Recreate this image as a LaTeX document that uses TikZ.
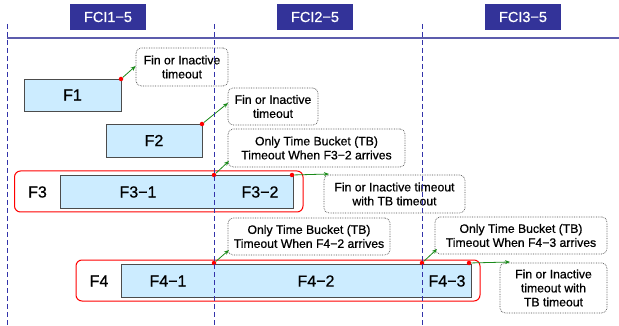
\documentclass[tikz,border=0pt]{standalone}
\usepackage{fontspec}
\setmainfont{Liberation Sans}[FakeBold=0.7]
\usetikzlibrary{arrows.meta}
\definecolor{hdr}{HTML}{333399}
\definecolor{vline}{HTML}{3333AA}
\definecolor{boxfill}{HTML}{CCECFF}
\definecolor{grn}{HTML}{1A8A1A}
\tikzset{
  hdrbox/.style={fill=hdr, text=white, minimum width=76pt, minimum height=26pt, inner sep=0pt, font=\fontsize{14.5}{16}\selectfont},
  flowbox/.style={draw=black!70, line width=0.8pt, fill=boxfill},
  grp/.style={draw=red, line width=1pt, rounded corners=6pt},
  callout/.style={draw=black!70, densely dotted, line width=0.7pt, rounded corners=5pt, fill=white, align=center, inner sep=0pt, font=\fontsize{12.2}{14}\selectfont},
  lbl/.style={font=\fontsize{16}{18}\selectfont, inner sep=0pt},
  reddot/.style={circle, fill=red, inner sep=0pt, minimum size=4.5pt},
  garrow/.style={draw=grn, line width=0.8pt, -{Stealth[length=5pt,width=4pt]}},
  vdash/.style={draw=vline, line width=0.9pt, dash pattern=on 5pt off 3pt},
}
\begin{document}
\begin{tikzpicture}[x=1pt,y=-1pt]
\useasboundingbox (0,0) rectangle (619,326);
% headers
\node[hdrbox] (h1) at (108,17) {FCI1−5};
\node[hdrbox] (h2) at (315,17) {FCI2−5};
\node[hdrbox] (h3) at (523,17) {FCI3−5};
\coordinate (hl0) at (7,38);
\coordinate (hl1) at (619,38);
\draw[draw=hdr!80, line width=1.2pt] (hl0) -- (hl1);

% F1
\draw[flowbox] (24,79) rectangle (121,111);
\node[lbl] (f1) at (72.5,95) {F1};
\node[callout, minimum width=92pt, minimum height=38pt] (c1) at (182,67) {Fin or Inactive\\timeout};
\node[reddot] (d1) at (121,79) {};
\draw[garrow] (d1) -- (c1.west |- 0,66) coordinate (e1);

% F2
\draw[flowbox] (106,124) rectangle (202,157);
\node[lbl] (f2) at (154,140.5) {F2};
\node[callout, minimum width=90pt, minimum height=37pt] (c2) at (273,106.5) {Fin or Inactive\\timeout};
\node[reddot] (d2) at (202,124) {};
\coordinate (e2) at (228,103);
\draw[garrow] (d2) -- (e2);

% F3
\node[callout, minimum width=177pt, minimum height=38pt] (c3) at (316.5,148) {Only Time Bucket (TB)\\Timeout When F3−2 arrives};
\draw[grp] (14.5,171) rectangle (303,212);
\draw[flowbox] (60,175) rectangle (293,208);
\node[lbl] (f3) at (37.5,192) {F3};
\node[lbl] (f31) at (138,192) {F3−1};
\node[lbl] (f32) at (260,192) {F3−2};
\node[callout, minimum width=141pt, minimum height=38pt] (c4) at (394.5,194) {Fin or Inactive timeout\\with TB timeout};
\node[reddot] (d31) at (214,175) {};
\node[reddot] (d32) at (292,175) {};
\coordinate (e31) at (229,161);
\coordinate (e32) at (329,174);
\draw[garrow] (d31) -- (e31);
\draw[garrow] (d32) -- (e32);

% F4
\node[callout, minimum width=162pt, minimum height=37pt] (c5) at (309,236.5) {Only Time Bucket (TB)\\Timeout When F4−2 arrives};
\node[callout, minimum width=172pt, minimum height=37pt] (c6) at (521,235.5) {Only Time Bucket (TB)\\Timeout When F4−3 arrives};
\node[callout, minimum width=107pt, minimum height=50pt] (c7) at (553.5,288) {Fin or Inactive\\timeout with\\TB timeout};
\draw[grp] (76,260) rectangle (480,301);
\draw[flowbox] (121,264) rectangle (471,297);
\node[lbl] (f4) at (99,281) {F4};
\node[lbl] (f41) at (168,281) {F4−1};
\node[lbl] (f42) at (316,281) {F4−2};
\node[lbl] (f43) at (447,281) {F4−3};
\node[reddot] (d41) at (214,263) {};
\node[reddot] (d42) at (422,263) {};
\node[reddot] (d43) at (469,263) {};
\coordinate (e41) at (229,250);
\coordinate (e42) at (437,249);
\coordinate (e43) at (510,262);
\draw[garrow] (d41) -- (e41);
\draw[garrow] (d42) -- (e42);
\draw[garrow] (d43) -- (e43);

% vertical dashed lines on top
\coordinate (v1a) at (7,24);  \coordinate (v1b) at (7,326);
\coordinate (v2a) at (214,24); \coordinate (v2b) at (214,326);
\coordinate (v3a) at (422,24); \coordinate (v3b) at (422,326);
\draw[vdash] (v1a) -- (v1b);
\draw[vdash] (v2a) -- (v2b);
\draw[vdash] (v3a) -- (v3b);
\end{tikzpicture}
\end{document}
